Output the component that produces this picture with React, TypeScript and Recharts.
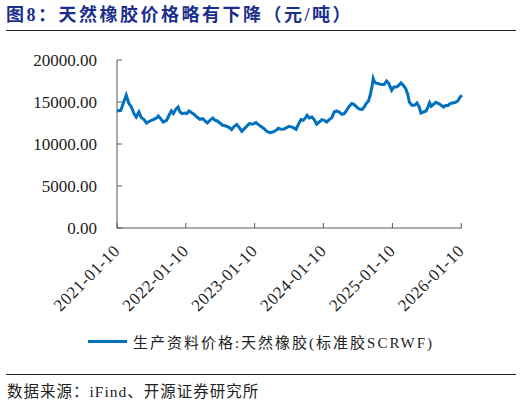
import React from 'react';
import { LineChart, Line, XAxis, YAxis, Legend } from 'recharts';

// weekly-ish readings of the SCRWF price (元/吨)
const dates = [
  '2021-01-10', '2021-01-30', '2021-02-12', '2021-02-28', '2021-03-13', '2021-03-27', '2021-04-10', '2021-04-22',
  '2021-05-06', '2021-05-19', '2021-06-02', '2021-06-16', '2021-07-04', '2021-07-21', '2021-08-08', '2021-08-17',
  '2021-08-30', '2021-09-12', '2021-09-30', '2021-10-13', '2021-10-25', '2021-11-05', '2021-11-17', '2021-11-30',
  '2021-12-10', '2021-12-22', '2022-01-04', '2022-01-15', '2022-01-27', '2022-02-08', '2022-02-22', '2022-03-09',
  '2022-03-26', '2022-04-10', '2022-04-22', '2022-05-04', '2022-05-18', '2022-06-02', '2022-06-14', '2022-06-26',
  '2022-07-10', '2022-07-25', '2022-08-11', '2022-08-29', '2022-09-10', '2022-09-24', '2022-10-07', '2022-10-21',
  '2022-11-03', '2022-11-17', '2022-11-29', '2022-12-13', '2022-12-31', '2023-01-17', '2023-01-30', '2023-02-17',
  '2023-03-01', '2023-03-15', '2023-04-02', '2023-04-16', '2023-05-04', '2023-05-16', '2023-05-30', '2023-06-15',
  '2023-06-29', '2023-07-13', '2023-08-04', '2023-08-18', '2023-09-01', '2023-09-13', '2023-09-25', '2023-10-06',
  '2023-10-15', '2023-10-27', '2023-11-10', '2023-11-22', '2023-12-05', '2023-12-19', '2024-01-02', '2024-01-14',
  '2024-01-27', '2024-02-10', '2024-02-24', '2024-03-07', '2024-03-20', '2024-04-03', '2024-04-17', '2024-04-29',
  '2024-05-12', '2024-05-26', '2024-06-09', '2024-06-21', '2024-07-05', '2024-07-17', '2024-08-01', '2024-08-13',
  '2024-08-26', '2024-09-05', '2024-09-14', '2024-09-23', '2024-09-30', '2024-10-07', '2024-10-14', '2024-10-26',
  '2024-11-13', '2024-11-27', '2024-12-10', '2024-12-22', '2025-01-06', '2025-01-18', '2025-02-01', '2025-02-13',
  '2025-02-24', '2025-03-08', '2025-03-21', '2025-04-01', '2025-04-10', '2025-04-23', '2025-05-07', '2025-05-20',
  '2025-06-01', '2025-06-10', '2025-06-24', '2025-07-07', '2025-07-17', '2025-07-26', '2025-08-04', '2025-08-16',
  '2025-08-29', '2025-09-12', '2025-09-26', '2025-10-08', '2025-10-21', '2025-10-31', '2025-11-12', '2025-11-24',
  '2025-12-08', '2025-12-23', '2026-01-04', '2026-01-14',
];

const prices = [
  13930, 14010, 14810, 15800, 14880, 14400, 13620, 13210,
  13810, 13140, 12900, 12500, 12740, 12900, 13100, 13330,
  13020, 12620, 12820, 13420, 13930, 13620, 14100, 14400,
  13810, 13620, 13690, 13620, 13930, 13740, 13540, 13210,
  12940, 13020, 12740, 12500, 12820, 13100, 12820, 12740,
  12500, 12230, 12140, 11950, 11710, 12110, 12310, 11950,
  11510, 11830, 12110, 12430, 12350, 12550, 12310, 12020,
  11830, 11510, 11360, 11430, 11630, 11870, 11750, 11790,
  11950, 12110, 11950, 11750, 12430, 12900, 12820, 13100,
  13420, 13100, 13210, 12900, 12350, 12620, 12900, 12820,
  12620, 12900, 13140, 13810, 13930, 13810, 13540, 13620,
  14010, 14490, 14810, 14690, 14400, 14170, 14100, 14400,
  14880, 15120, 15800, 16790, 17790, 17380, 17260, 17190,
  17070, 17070, 17500, 17190, 16390, 16790, 16790, 16990,
  17260, 16990, 16600, 15920, 15000, 14610, 14610, 14880,
  14400, 13690, 13810, 13930, 14400, 14930, 14490, 14730,
  14960, 14810, 14610, 14400, 14610, 14570, 14810, 14880,
  14930, 15120, 15600, 15800,
];

const yTicks = [0, 5000, 10000, 15000, 20000];
const xTickLabels = ['2021-01-10', '2022-01-10', '2023-01-10', '2024-01-10', '2025-01-10', '2026-01-10'];
const seriesName = '生产资料价格:天然橡胶(标准胶SCRWF)';

const toTime = (s: string) => {
  const [y, m, d] = s.split('-').map(Number);
  return Date.UTC(y, m - 1, d);
};

const data = dates.map((d, i) => ({ t: toTime(d), price: prices[i] }));
const xTicks = xTickLabels.map(toTime);

const SERIF = "'Times New Roman', 'Liberation Serif', 'Noto Sans CJK SC', serif";
const BLUE = '#0070C0';
const AXIS = '#595959';

const XTick = (props: any) => {
  const { x, y, payload } = props;
  const label = new Date(payload.value).toISOString().slice(0, 10);
  return (
    <text
      x={x}
      y={y}
      transform={`rotate(-45 ${x} ${y})`}
      textAnchor="end"
      dominantBaseline="central"
      fill="#222"
      fontSize={17}
      letterSpacing={0.6}
      fontFamily={SERIF}
    >
      {label}
    </text>
  );
};

const LegendContent = (props: any) => {
  const item = props.payload && props.payload[0];
  return (
    <div style={{ display: 'flex', justifyContent: 'center', alignItems: 'center', height: 24 }}>
      <span style={{ display: 'inline-block', width: 39, height: 3, background: item ? item.color : BLUE, marginRight: 6 }} />
      <span style={{ fontFamily: SERIF, fontSize: 15, letterSpacing: 2, color: '#222' }}>
        {item ? item.value : seriesName}
      </span>
    </div>
  );
};

export default function App() {
  return (
    <div style={{ position: 'absolute', left: 0, top: 0, width: 522, height: 405, background: '#fff', overflow: 'hidden' }}>
      <div
        style={{
          position: 'absolute', left: 6, top: 3, lineHeight: '24px', fontSize: 18, fontWeight: 'bold',
          color: '#1c2f8c', letterSpacing: 2.5, fontFamily: SERIF, whiteSpace: 'nowrap',
        }}
      >
        图8：天然橡胶价格略有下降（元/吨）
      </div>
      <div style={{ position: 'absolute', left: 6, top: 30, width: 510, borderTop: '1px solid #222' }} />

      <div style={{ position: 'absolute', left: 0, top: 0 }}>
        <LineChart width={522} height={365} data={data} margin={{ top: 60, right: 60, left: 17, bottom: 12 }}>
          <XAxis
            dataKey="t"
            type="number"
            domain={[data[0].t, data[data.length - 1].t]}
            ticks={xTicks}
            interval={0}
            height={101}
            tick={<XTick />}
            tickSize={-5}
            tickMargin={25}
            stroke={AXIS}
            axisLine={{ stroke: AXIS }}
            tickLine={{ stroke: AXIS }}
          />
          <YAxis
            type="number"
            domain={[0, 20000]}
            ticks={yTicks}
            interval={0}
            width={100}
            tickSize={-5}
            tickMargin={25}
            tickFormatter={(v: number) => v.toFixed(2)}
            tick={{ fill: '#222', fontSize: 17, fontFamily: SERIF }}
            axisLine={{ stroke: AXIS }}
            tickLine={{ stroke: AXIS }}
          />
          <Legend
            verticalAlign="bottom"
            content={<LegendContent />}
            wrapperStyle={{ left: 0, width: 522 }}
          />
          <Line
            type="linear"
            dataKey="price"
            name={seriesName}
            stroke={BLUE}
            strokeWidth={3}
            dot={false}
            isAnimationActive={false}
          />
        </LineChart>
      </div>

      <div style={{ position: 'absolute', left: 6, top: 374, width: 510, borderTop: '1px solid #222' }} />
      <div
        style={{
          position: 'absolute', left: 7, top: 382, lineHeight: '20px', fontSize: 15.5, color: '#222',
          letterSpacing: 1, fontFamily: SERIF, whiteSpace: 'nowrap',
        }}
      >
        数据来源：iFind、开源证券研究所
      </div>
    </div>
  );
}
